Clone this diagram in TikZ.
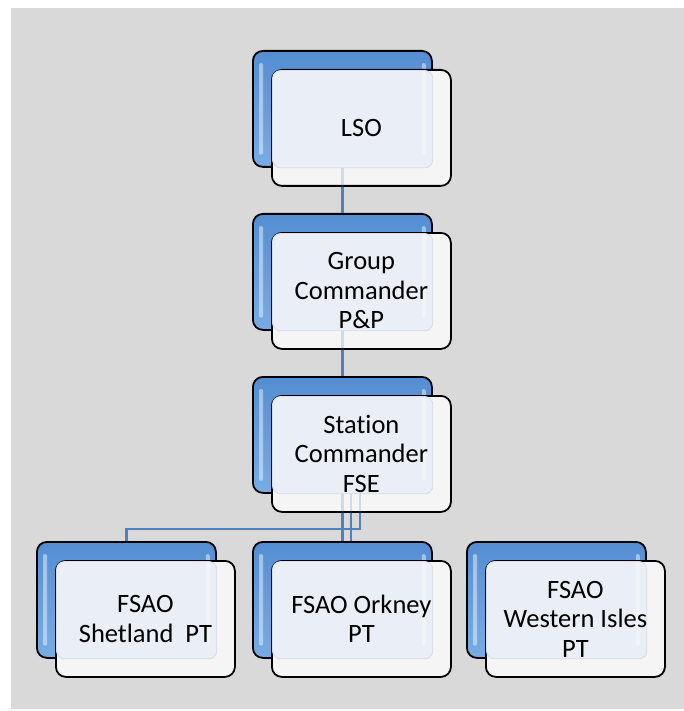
\documentclass[tikz,border=0pt]{standalone}
\usepackage{fontspec}
\setmainfont{Carlito}[Ligatures=NoCommon]
\usetikzlibrary{calc}
\definecolor{bg}{RGB}{217,217,217}
\definecolor{conn}{RGB}{79,129,189}
\definecolor{blueTop}{RGB}{84,142,210}
\definecolor{blueBot}{RGB}{120,172,228}
\definecolor{frontFill}{RGB}{245,245,245}
\definecolor{overlapFill}{RGB}{234,238,246}
\definecolor{overlapLine}{RGB}{216,220,228}
\tikzset{
  backbox/.style={draw=black, line width=1.8pt, rounded corners=10pt,
    minimum width=179pt, minimum height=116pt, top color=blueTop,
    bottom color=blueBot, inner sep=0pt, anchor=north west},
  frontbox/.style={draw=black, line width=1.8pt, rounded corners=10pt,
    minimum width=179pt, minimum height=116pt, fill=frontFill,
    inner sep=0pt, anchor=north west},
  boxlabel/.style={font=\fontsize{26.5}{29.5}\selectfont, align=center, inner sep=0pt},
  conline/.style={draw=conn, line width=2.3pt},
  shine/.style={fill=white, rounded corners=2pt},
}
% back box with highlights
\newcommand{\backunit}[3]{%
  \node[backbox] (#1B) at (#2,#3) {};
  \fill[shine, opacity=0.45] ($(#1B.north west)+(7pt,-13pt)$) rectangle ($(#1B.south west)+(11pt,13pt)$);
  \fill[shine, opacity=0.45] ($(#1B.north east)+(-11pt,-13pt)$) rectangle ($(#1B.south east)+(-7pt,13pt)$);
}
% front box with overlap tint and text
\newcommand{\frontunit}[4]{%
  \node[frontbox] (#1F) at ($(#1B.north west)+(19pt,-19pt)$) {};
  \filldraw[fill=overlapFill, draw=overlapLine, line width=0.8pt, rounded corners=8pt]
    ($(#1F.north west)+(1.5pt,-1.5pt)$) rectangle (#1B.south east);
  \fill[shine, opacity=0.3] ($(#1B.north east)+(-11pt,-21pt)$) rectangle ($(#1B.south east)+(-7pt,13pt)$);
  \node[boxlabel] (#1) at (#1F.center) {#4};
}
\newcommand{\allconnectors}[1]{%
  \draw[conline,#1] (lsoB.south) -- (grpB.north);
  \draw[conline,#1] (grpB.south) -- (stnB.north);
  \draw[conline,#1] (stnB.south) -- (orkB.north);
  \draw[conline,#1] ([xshift=8.5pt]stnB.south) -- ([xshift=8.5pt]orkB.north);
  \draw[conline,#1] ([xshift=17.5pt]stnB.south) |- (jn) -| (shtB.north);
}
\begin{document}
\begin{tikzpicture}[x=1pt,y=-1pt]
\useasboundingbox (0,0) rectangle (684,711);
\fill[bg] (11,8) rectangle (684,709);
% back boxes
\backunit{lso}{252}{50}
\backunit{grp}{252}{213}
\backunit{stn}{252}{376}
\backunit{sht}{36}{541}
\backunit{ork}{252}{541}
\backunit{wst}{466}{541}
\coordinate (jn) at (359,529);
% connectors
\allconnectors{}
% front boxes
\frontunit{lso}{}{}{LSO}
\frontunit{grp}{}{}{Group\\Commander\\P\&P}
\frontunit{stn}{}{}{Station\\Commander\\FSE}
\frontunit{sht}{}{}{FSAO\\Shetland\ \ PT}
\frontunit{ork}{}{}{FSAO Orkney\\PT}
\frontunit{wst}{}{}{FSAO\\Western Isles\\PT}
% faint connectors seen through the front boxes
\allconnectors{opacity=0.22}
\end{tikzpicture}
\end{document}
